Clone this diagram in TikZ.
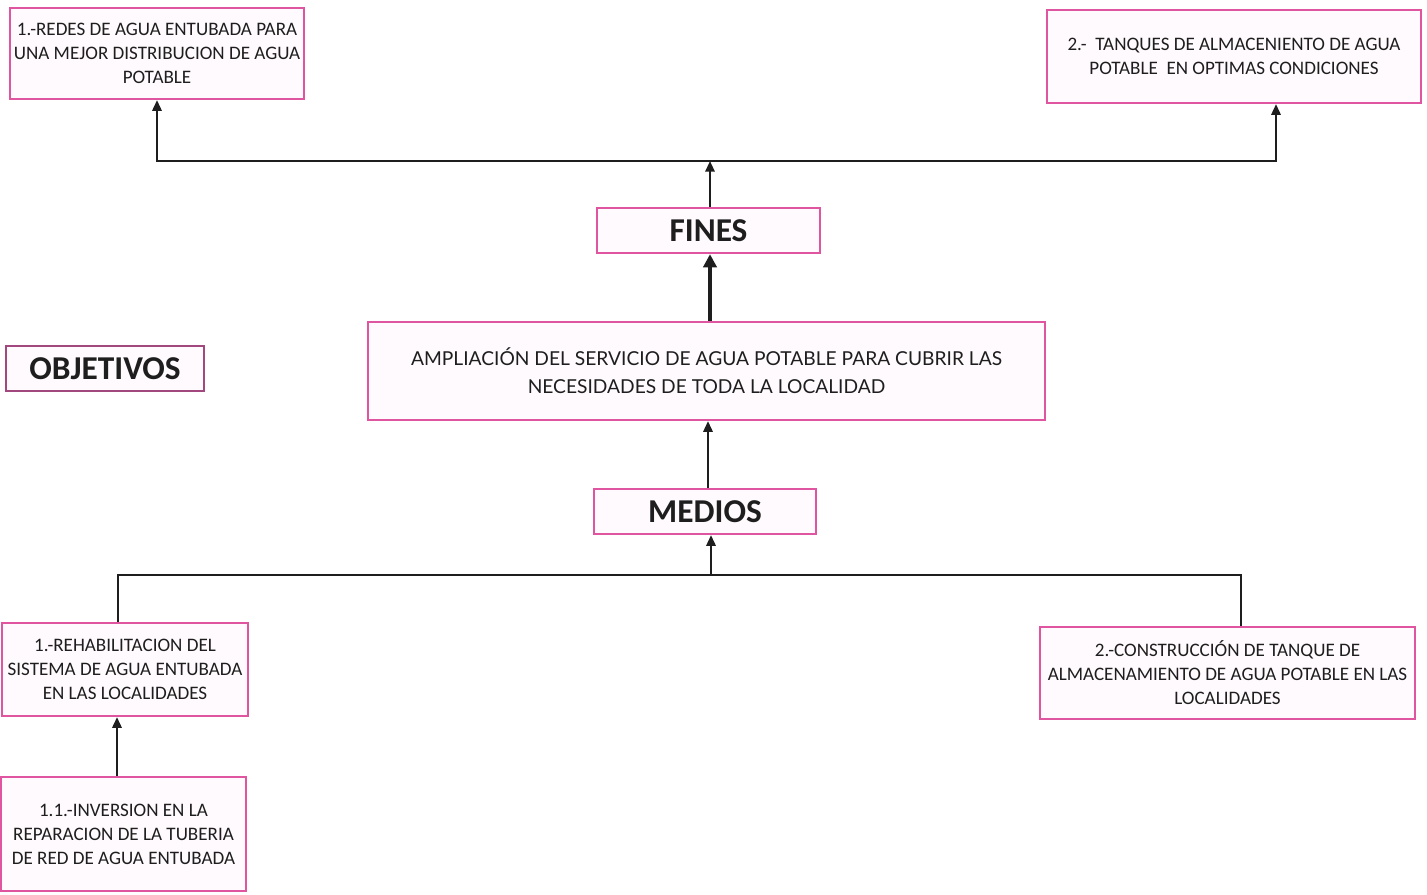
\documentclass[tikz,border=0pt]{standalone}
\usepackage{fontspec}
\setmainfont{Carlito}
\newfontfamily\gillfont{Lato}
\usepackage{xcolor}
\usetikzlibrary{arrows.meta}
\definecolor{pinkline}{HTML}{E0559F}
\definecolor{purpline}{HTML}{A2487F}
\definecolor{pinkfill}{HTML}{FFFAFD}
\definecolor{inktext}{HTML}{1E1E1E}
\tikzset{
  every node/.append style={text=inktext},
  objbox/.style={draw=pinkline,line width=1.7pt,fill=pinkfill,align=center,
    inner sep=0pt,font=\fontsize{14.3}{18}\selectfont},
  titlebox/.style={objbox,font=\fontsize{25}{26}\selectfont\bfseries},
  link/.style={draw=inktext,line width=1.5pt},
  uparrow/.style={link,-{Triangle[length=8pt,width=7pt]}}
}
\begin{document}
\begin{tikzpicture}[x=0.75pt,y=-0.75pt]
  \useasboundingbox (0,0) rectangle (1427,894);
  % fines
  \node[objbox,minimum width=220.5pt,minimum height=68.25pt] (redes) at (157,53.5)
    {1.-REDES DE AGUA ENTUBADA PARA\\UNA MEJOR DISTRIBUCION DE AGUA\\POTABLE};
  \node[objbox,minimum width=280.5pt,minimum height=69.75pt] (tanques) at (1234,56.5)
    {2.-\ \ TANQUES DE ALMACENIENTO DE AGUA\\POTABLE\ \ EN OPTIMAS CONDICIONES};
  \node[titlebox,minimum width=167.25pt,minimum height=33.75pt] (fines) at (708.5,230.5) {FINES};
  % objetivo central
  \node[objbox,minimum width=507.75pt,minimum height=73.5pt,
    font=\gillfont\fontsize{14.4}{21}\selectfont] (central) at (706.5,371)
    {AMPLIACIÓN DEL SERVICIO DE AGUA POTABLE PARA CUBRIR LAS\\NECESIDADES DE TODA LA LOCALIDAD};
  \node[titlebox,draw=purpline,minimum width=148.5pt,minimum height=33.75pt] (objetivos) at (105,368.5) {OBJETIVOS};
  % medios
  \node[titlebox,minimum width=166.5pt,minimum height=33.75pt] (medios) at (705,511.5) {MEDIOS};
  \node[objbox,minimum width=184.5pt,minimum height=69.75pt] (rehab) at (125,669.5)
    {1.-REHABILITACION DEL\\SISTEMA DE AGUA ENTUBADA\\EN LAS LOCALIDADES};
  \node[objbox,minimum width=281.25pt,minimum height=69pt] (constr) at (1227.5,673)
    {2.-CONSTRUCCIÓN DE TANQUE DE\\ALMACENAMIENTO DE AGUA POTABLE EN LAS\\LOCALIDADES};
  \node[objbox,minimum width=183.75pt,minimum height=85.5pt] (inversion) at (123.5,834)
    {1.1.-INVERSION EN LA\\REPARACION DE LA TUBERIA\\DE RED DE AGUA ENTUBADA};

  % conectores de fines
  \coordinate (finesup) at (710,161);
  \draw[uparrow] (finesup) -| (redes.south -| 157,0);
  \draw[uparrow] (finesup) -| (tanques.south -| 1276,0);
  \draw[uparrow] (fines.north -| finesup) -- (finesup);
  \draw[link,line width=3pt,-{Triangle[length=10pt,width=10pt]}] (central.north -| 710,0) -- (fines.south -| 710,0);
  \draw[uparrow] (medios.north -| 708,0) -- (central.south -| 708,0);
  % conectores de medios
  \coordinate (mediosdown) at (711,575);
  \draw[link] (rehab.north -| 118,0) |- (mediosdown);
  \draw[link] (constr.north -| 1241,0) |- (mediosdown);
  \draw[uparrow] (mediosdown) -- (medios.south -| mediosdown);
  \draw[uparrow] (inversion.north -| 117,0) -- (rehab.south -| 117,0);
\end{tikzpicture}
\end{document}
